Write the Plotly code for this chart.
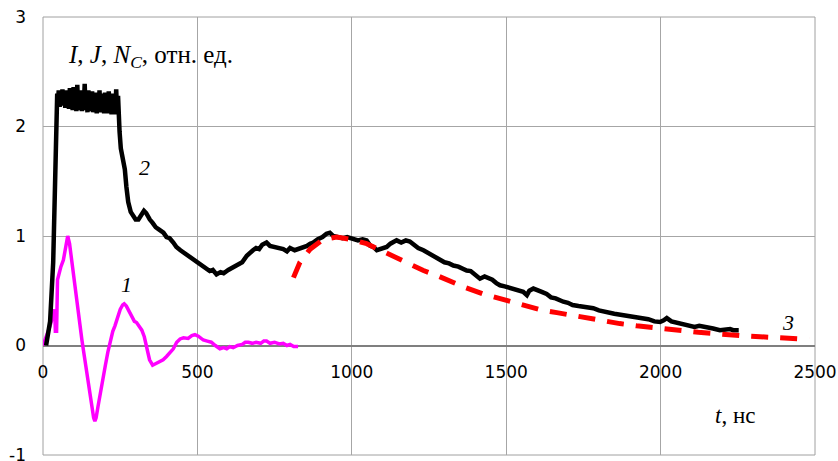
import plotly.graph_objects as go

# ---- data ----
t1 = [0, 12, 23, 31, 38, 40, 44, 47, 50, 58, 66, 74, 80, 86, 94, 102, 110, 118, 126, 134, 142, 150, 158, 164,
      168, 172, 178, 186, 194, 202, 210, 218, 226, 233, 242, 250, 258, 263, 270, 278, 288, 296, 303, 312, 320,
      328, 336, 345, 355, 362, 372, 382, 389, 400, 411, 422, 433, 444, 455, 470, 482, 492, 503, 512, 519, 532,
      545, 558, 573, 585, 595, 605, 616, 630, 645, 655, 665, 678, 690, 705, 715, 724, 735, 750, 765, 778, 790,
      800, 812, 826]
y1 = [0, 0.09, 0.18, 0.26, 0.33, 0.13, 0.13, 0.60, 0.64, 0.72, 0.78, 0.92, 1.0, 0.93, 0.75, 0.55, 0.38, 0.2,
      0.05, -0.1, -0.26, -0.42, -0.57, -0.66, -0.69, -0.66, -0.56, -0.42, -0.3, -0.18, -0.06, 0.05, 0.13, 0.18,
      0.27, 0.33, 0.37, 0.38, 0.36, 0.32, 0.27, 0.22, 0.21, 0.17, 0.14, 0.08, -0.02, -0.13, -0.18, -0.17, -0.15,
      -0.14, -0.13, -0.10, -0.07, -0.03, 0.03, 0.06, 0.07, 0.065, 0.09, 0.10, 0.085, 0.06, 0.05, 0.04, 0.03, 0.0,
      -0.03, -0.02, -0.03, -0.01, -0.02, 0.0, 0.01, 0.03, 0.03, 0.02, 0.03, 0.02, 0.04, 0.04, 0.02, 0.03, 0.015,
      0.02, 0.0, 0.01, -0.01, -0.01]

t2 = [10, 16, 23, 33, 39, 44, 46, 48, 51, 54, 57, 60, 63, 66, 69, 72, 75, 78, 81, 84, 87, 90, 93, 96, 99, 102,
      105, 108, 111, 114, 117, 120, 123, 126, 129, 132, 135, 138, 141, 144, 147, 150, 153, 156, 159, 162, 165,
      168, 171, 174, 177, 180, 183, 186, 189, 192, 195, 198, 201, 204, 207, 210, 213, 216, 219, 222, 225, 228,
      231, 234, 237, 240, 243, 245,
      248, 252, 258, 265, 270, 276, 284, 292, 300, 309, 318, 327, 334, 340, 346, 355, 365, 375, 390, 400, 410,
      422, 432, 445, 455, 465, 475, 485, 495, 508, 520, 530, 540, 550, 562, 575, 585, 600, 616, 630, 645, 660,
      670, 680, 690, 700, 710, 724, 735, 750, 765, 778, 790, 800, 815, 827, 840, 855, 865, 875, 890, 905, 918,
      929, 940, 955, 970, 985, 1005, 1020, 1035, 1048, 1060, 1070, 1081, 1095, 1113, 1125, 1135, 1145, 1160,
      1175, 1188, 1200, 1215, 1232, 1245, 1260, 1275, 1286, 1300, 1315, 1329, 1345, 1360, 1372, 1385, 1400,
      1415, 1430, 1442, 1455, 1468, 1480, 1495, 1510, 1523, 1540, 1555, 1567, 1575, 1588, 1600, 1615, 1631,
      1645, 1660, 1675, 1685, 1700, 1715, 1734, 1750, 1765, 1782, 1800, 1815, 1836, 1850, 1870, 1890, 1905,
      1920, 1944, 1960, 1980, 1998, 2010, 2020, 2035, 2050, 2063, 2080, 2095, 2110, 2125, 2138, 2155, 2170,
      2192, 2210, 2225, 2235, 2253]
y2 = [0, 0.08, 0.22, 0.76, 1.37, 2.15, 2.30, 2.22, 2.33, 2.18, 2.31, 2.20, 2.34, 2.19, 2.30, 2.17, 2.33, 2.20,
      2.31, 2.16, 2.35, 2.18, 2.29, 2.15, 2.36, 2.17, 2.32, 2.14, 2.38, 2.16, 2.30, 2.15, 2.33, 2.14, 2.31, 2.17,
      2.39, 2.15, 2.30, 2.13, 2.33, 2.16, 2.29, 2.14, 2.32, 2.13, 2.30, 2.15, 2.31, 2.12, 2.29, 2.14, 2.33, 2.13,
      2.30, 2.15, 2.28, 2.12, 2.31, 2.14, 2.29, 2.12, 2.32, 2.13, 2.28, 2.11, 2.30, 2.13, 2.29, 2.11, 2.34, 2.12,
      2.28, 2.10,
      1.95, 1.80, 1.72, 1.61, 1.45, 1.31, 1.22, 1.18, 1.15, 1.15, 1.19, 1.23, 1.21, 1.17, 1.15, 1.12, 1.08, 1.06,
      1.03, 0.99, 0.98, 0.94, 0.90, 0.87, 0.85, 0.82, 0.80, 0.78, 0.76, 0.745, 0.72, 0.70, 0.68, 0.69, 0.65,
      0.67, 0.66, 0.69, 0.715, 0.73, 0.76, 0.82, 0.85, 0.87, 0.89, 0.88, 0.92, 0.94, 0.91, 0.90, 0.88, 0.88,
      0.86, 0.89, 0.87, 0.88, 0.90, 0.91, 0.93, 0.94, 0.97, 0.99, 1.02, 1.03, 1.00, 0.99, 0.98, 0.99, 0.97,
      0.96, 0.97, 0.96, 0.91, 0.90, 0.87, 0.88, 0.90, 0.93, 0.95, 0.96, 0.94, 0.96, 0.95, 0.92, 0.89, 0.87,
      0.85, 0.82, 0.80, 0.79, 0.76, 0.75, 0.73, 0.72, 0.70, 0.685, 0.68, 0.64, 0.61, 0.63, 0.62, 0.60, 0.57,
      0.55, 0.54, 0.53, 0.52, 0.50, 0.49, 0.46, 0.50, 0.52, 0.51, 0.49, 0.47, 0.44, 0.43, 0.41, 0.40, 0.39,
      0.37, 0.36, 0.355, 0.35, 0.34, 0.32, 0.31, 0.29, 0.29, 0.28, 0.27, 0.27, 0.26, 0.245, 0.24, 0.22, 0.215,
      0.23, 0.25, 0.22, 0.21, 0.20, 0.19, 0.18, 0.17, 0.18, 0.17, 0.16, 0.155, 0.14, 0.145, 0.15, 0.14, 0.14]

t3 = [811, 832, 865, 908, 951, 994, 1048, 1091, 1140, 1178, 1232, 1275, 1329, 1367, 1426, 1464, 1523, 1566,
      1620, 1664, 1717, 1766, 1820, 1868, 1922, 1966, 2020, 2068, 2122, 2171, 2225, 2273, 2322, 2376, 2430, 2481]
y3 = [0.62, 0.76, 0.88, 0.97, 0.99, 0.97, 0.93, 0.87, 0.81, 0.76, 0.685, 0.64, 0.57, 0.53, 0.47, 0.44, 0.39,
      0.36, 0.32, 0.30, 0.272, 0.245, 0.215, 0.20, 0.18, 0.165, 0.15, 0.13, 0.12, 0.11, 0.094, 0.088, 0.08,
      0.07, 0.064, 0.055]

x_ticks = [0, 500, 1000, 1500, 2000, 2500]
y_ticks = [-1, 0, 1, 2, 3]

# curve-number labels: (text, x, y)
curve_labels = [("2", 330, 1.63), ("1", 272, 0.56), ("3", 2413, 0.21)]

fig = go.Figure()
fig.add_trace(go.Scatter(x=t1, y=y1, mode="lines", line=dict(color="#ff00ff", width=3.5), showlegend=False))
fig.add_trace(go.Scatter(x=t2, y=y2, mode="lines", line=dict(color="#000000", width=4.5), showlegend=False))
fig.add_trace(go.Scatter(x=t3, y=y3, mode="lines",
                         line=dict(color="#ff0000", width=5, dash="17px,12px"), showlegend=False))

serif = "Liberation Serif"
for txt, xx, yy in curve_labels:
    fig.add_annotation(x=xx, y=yy, text=f"<i>{txt}</i>", showarrow=False,
                       font=dict(family=serif, size=22, color="black"))

fig.add_annotation(x=74, y=2.64, xanchor="left", showarrow=False,
                   text="<i>I</i>, <i>J</i>, <i>N<sub>C</sub></i>, отн. ед.",
                   font=dict(family=serif, size=25, color="black"))
fig.add_annotation(x=2170, y=-0.64, xanchor="left", showarrow=False,
                   text="<i>t</i>, нс", font=dict(family=serif, size=23, color="black"))

fig.add_shape(type="rect", xref="paper", yref="paper", x0=0, y0=0, x1=1, y1=1,
              line=dict(color="#a0a0a0", width=1), layer="below")

fig.update_layout(
    width=838, height=461,
    margin=dict(l=43, r=23, t=17, b=6, autoexpand=False),
    paper_bgcolor="white", plot_bgcolor="white",
    xaxis=dict(range=[0, 2500], tickvals=x_ticks, ticktext=[str(v) for v in x_ticks],
               showgrid=True, gridcolor="#a6a6a6", gridwidth=1, zeroline=False, showline=False,
               anchor="free", position=0.25, ticks="", ticklabelstandoff=14,
               automargin=False, ticklabeloverflow="allow",
               tickfont=dict(family="DejaVu Sans", size=17, color="black")),
    yaxis=dict(range=[-1, 3], tickvals=y_ticks, ticktext=[str(v) for v in y_ticks],
               showgrid=True, gridcolor="#a6a6a6", gridwidth=1,
               zeroline=True, zerolinecolor="#7f7f7f", zerolinewidth=2,
               showline=False, ticks="", ticklabelstandoff=16,
               automargin=False, ticklabeloverflow="allow",
               tickfont=dict(family="DejaVu Sans", size=17, color="black")),
)

fig.write_html("out.html", config={"displayModeBar": False},
               post_script="document.body.style.margin='0';document.body.style.overflow='hidden';")
